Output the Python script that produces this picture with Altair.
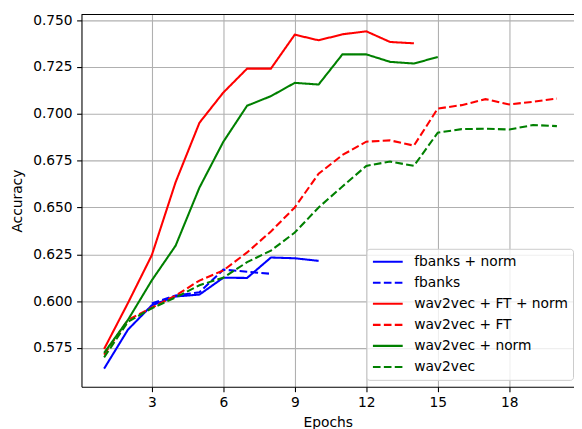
import altair as alt
import pandas as pd

series_names = ["fbanks + norm", "fbanks", "wav2vec + FT + norm", "wav2vec + FT",
                "wav2vec + norm", "wav2vec"]
series_colors = ["#0000ff", "#0000ff", "#ff0000", "#ff0000", "#008000", "#008000"]
series_dashes = [[1, 0], [7.7, 3.3], [1, 0], [7.7, 3.3], [1, 0], [7.7, 3.3]]

fbanks_norm_epochs = list(range(1, 11))
fbanks_norm = [0.5640, 0.5848, 0.5978, 0.6025, 0.6035, 0.6125, 0.6124, 0.6233, 0.6229, 0.6215]

fbanks_epochs = list(range(3, 9))
fbanks = [0.5988, 0.6030, 0.6048, 0.6168, 0.6157, 0.6146]

w2v_ft_norm_epochs = list(range(1, 15))
w2v_ft_norm = [0.5745, 0.5990, 0.6245, 0.6635, 0.6952, 0.7113, 0.7241, 0.7241, 0.7422,
               0.7392, 0.7424, 0.7440, 0.7383, 0.7376]

w2v_ft_epochs = list(range(1, 21))
w2v_ft = [0.5715, 0.5900, 0.5965, 0.6030, 0.6110, 0.6164, 0.6260, 0.6372, 0.6500, 0.6680,
          0.6780, 0.6851, 0.6858, 0.6830, 0.7028, 0.7046, 0.7078, 0.7050, 0.7064, 0.7081]

w2v_norm_epochs = list(range(1, 16))
w2v_norm = [0.5724, 0.5900, 0.6111, 0.6296, 0.6606, 0.6850, 0.7043, 0.7094, 0.7165,
            0.7156, 0.7317, 0.7317, 0.7277, 0.7268, 0.7303]

w2v_epochs = list(range(1, 21))
w2v = [0.5700, 0.5890, 0.5962, 0.6020, 0.6085, 0.6125, 0.6208, 0.6270, 0.6366, 0.6500,
       0.6612, 0.6722, 0.6745, 0.6722, 0.6899, 0.6918, 0.6920, 0.6916, 0.6940, 0.6934]

x_ticks = [3, 6, 9, 12, 15, 18]
y_ticks = [0.575, 0.600, 0.625, 0.650, 0.675, 0.700, 0.725, 0.750]

all_epochs = [fbanks_norm_epochs, fbanks_epochs, w2v_ft_norm_epochs, w2v_ft_epochs,
              w2v_norm_epochs, w2v_epochs]
all_values = [fbanks_norm, fbanks, w2v_ft_norm, w2v_ft, w2v_norm, w2v]

rows = []
for order, (name, eps, vals) in enumerate(zip(series_names, all_epochs, all_values)):
    for e, v in zip(eps, vals):
        rows.append({"series": name, "epoch": e, "acc": v, "order": order})
df = pd.DataFrame(rows)

FONT = "DejaVu Sans"
FS = 13.9
W, H = 496, 375
LW = 2.08

legend = alt.Legend(
    title=None, orient="none", legendX=287, legendY=236,
    symbolType="stroke", symbolSize=900, symbolStrokeWidth=LW,
    labelFont=FONT, labelFontSize=FS, labelColor="black", labelOffset=10,
    clipHeight=16, rowPadding=5.2, padding=5,
    fillColor="rgba(255,255,255,0.8)", strokeColor="#cccccc", cornerRadius=3,
)

lines = alt.Chart(df).mark_line(strokeWidth=LW).encode(
    x=alt.X("epoch:Q", title="Epochs",
            scale=alt.Scale(domain=[0.05, 0.05 + W / 24], nice=False, zero=False),
            axis=alt.Axis(values=x_ticks, format="d")),
    y=alt.Y("acc:Q", title="Accuracy",
            scale=alt.Scale(domain=[0.5543, 0.7530], nice=False, zero=False),
            axis=alt.Axis(values=y_ticks, format=".3f")),
    color=alt.Color("series:N", scale=alt.Scale(domain=series_names, range=series_colors),
                    legend=legend),
    strokeDash=alt.StrokeDash("series:N", scale=alt.Scale(domain=series_names, range=series_dashes),
                              legend=legend),
    order=alt.Order("epoch:Q"),
)

top_spine = alt.Chart(pd.DataFrame({"a": [0]})).mark_rule(color="black", strokeWidth=1.1).encode(
    x=alt.value(0), x2=alt.value(W), y=alt.value(0)
)

chart = alt.layer(lines, top_spine).properties(
    width=W, height=H,
    padding={"left": 74, "top": 5, "right": 0, "bottom": 41},
    autosize=alt.AutoSizeParams(type="none"),
).configure_view(stroke=None).configure_axis(
    labelFont=FONT, labelFontSize=FS, labelColor="black",
    titleFont=FONT, titleFontSize=FS, titleColor="black", titleFontWeight="normal",
    domainColor="black", domainWidth=1.1, tickColor="black", tickWidth=1.1, tickSize=4.9,
    labelPadding=4.5, grid=True, gridColor="#b0b0b0", gridWidth=1.1,
).configure_axisY(titlePadding=8).configure_axisX(titlePadding=7, labelPadding=3.5)

chart.save("out.html", embed_options={"renderer": "svg", "actions": False})
